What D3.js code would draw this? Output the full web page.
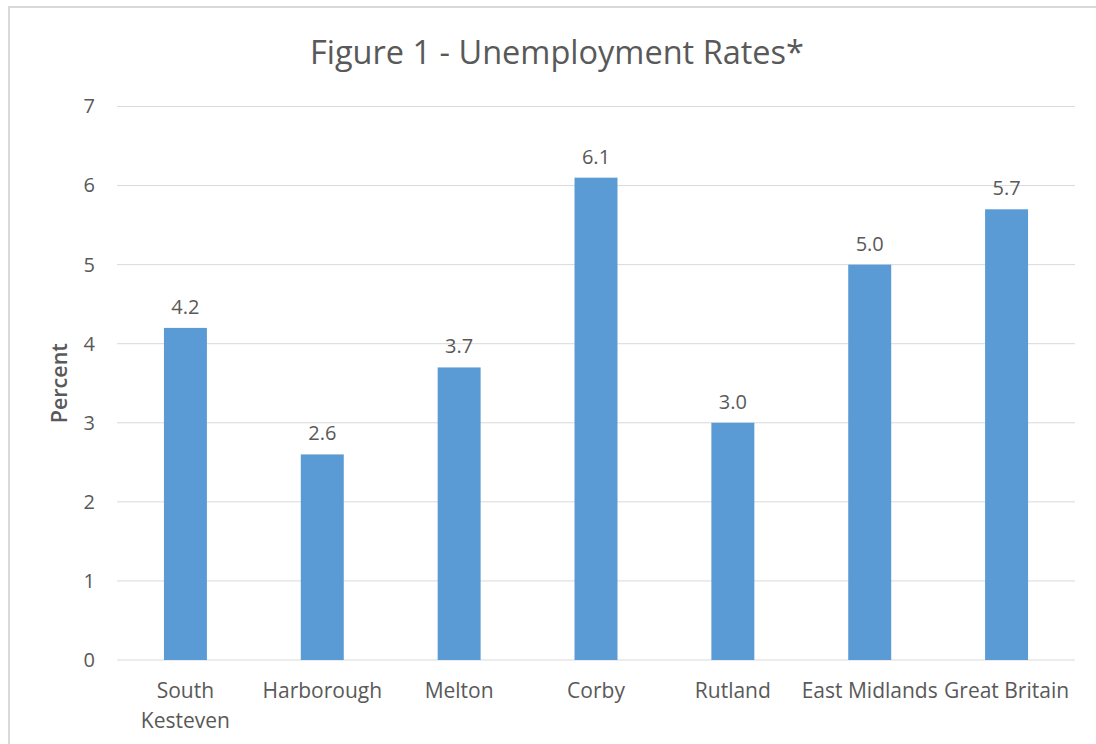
<!DOCTYPE html>
<html>
<head>
<meta charset="utf-8">
<script src="https://cdn.jsdelivr.net/npm/d3@7"></script>
<style>
  html, body { margin: 0; padding: 0; background: #fff; }
  svg { display: block; }
  text { font-family: "Open Sans", "Noto Sans", sans-serif; fill: #595959; }
</style>
</head>
<body>
<script>
const categories = ["South Kesteven", "Harborough", "Melton", "Corby", "Rutland", "East Midlands", "Great Britain"];
const categoryLines = [["South", "Kesteven"], ["Harborough"], ["Melton"], ["Corby"], ["Rutland"], ["East Midlands"], ["Great Britain"]];
const values = [4.2, 2.6, 3.7, 6.1, 3.0, 5.0, 5.7];
const yTicks = [0, 1, 2, 3, 4, 5, 6, 7];
const title = "Figure 1 - Unemployment Rates*";
const yTitle = "Percent";

const W = 1096, H = 744;
const margin = { left: 117, right: 21, top: 106.5, bottom: 84 };

const svg = d3.select("body").append("svg").attr("width", W).attr("height", H);

svg.append("rect")
  .attr("x", 9).attr("y", 7).attr("width", 1200).attr("height", 900)
  .attr("fill", "#fff").attr("stroke", "#d9d9d9").attr("stroke-width", 2);

const x = d3.scaleBand()
  .domain(categories)
  .range([margin.left, W - margin.right])
  .paddingInner(0.686)
  .paddingOuter(0.343);

const y = d3.scaleLinear().domain([0, 7]).range([H - margin.bottom, margin.top]);

// gridlines
svg.append("g").selectAll("line").data(yTicks).join("line")
  .attr("x1", margin.left).attr("x2", W - margin.right)
  .attr("y1", d => y(d)).attr("y2", d => y(d))
  .attr("stroke", "#d9d9d9").attr("stroke-width", 1);

// y axis labels
const yAxis = d3.axisLeft(y).tickValues(yTicks).tickFormat(d3.format("d")).tickSize(0).tickPadding(22);
const gy = svg.append("g").attr("transform", `translate(${margin.left},0)`).call(yAxis);
gy.select(".domain").remove();
gy.selectAll("text").attr("font-size", 20).attr("fill", "#595959")
  .attr("font-family", '"Open Sans", sans-serif');

// bars
svg.append("g").selectAll("rect").data(values).join("rect")
  .attr("x", (d, i) => x(categories[i]))
  .attr("width", x.bandwidth())
  .attr("y", d => y(d))
  .attr("height", d => y(0) - y(d))
  .attr("fill", "#5b9bd5");

// data labels
svg.append("g").selectAll("text").data(values).join("text")
  .attr("x", (d, i) => x(categories[i]) + x.bandwidth() / 2)
  .attr("y", d => y(d) - 14)
  .attr("text-anchor", "middle")
  .attr("font-size", 20)
  .text(d => d3.format(".1f")(d));

// category labels
const gx = svg.append("g");
categories.forEach((c, i) => {
  const t = gx.append("text")
    .attr("x", x(c) + x.bandwidth() / 2)
    .attr("y", y(0) + 38)
    .attr("text-anchor", "middle")
    .attr("font-size", 21);
  categoryLines[i].forEach((ln, j) => {
    t.append("tspan").attr("x", x(c) + x.bandwidth() / 2).attr("dy", j === 0 ? 0 : 30).text(ln);
  });
});

// title
svg.append("text")
  .attr("x", 557).attr("y", 64)
  .attr("text-anchor", "middle")
  .attr("font-size", 32.5)
  .text(title);

// y title
svg.append("text")
  .attr("transform", `translate(67, ${(y(0) + y(7)) / 2 + 0}) rotate(-90)`)
  .attr("text-anchor", "middle")
  .attr("font-size", 21.5)
  .attr("font-weight", 600)
  .text(yTitle);
</script>
</body>
</html>
